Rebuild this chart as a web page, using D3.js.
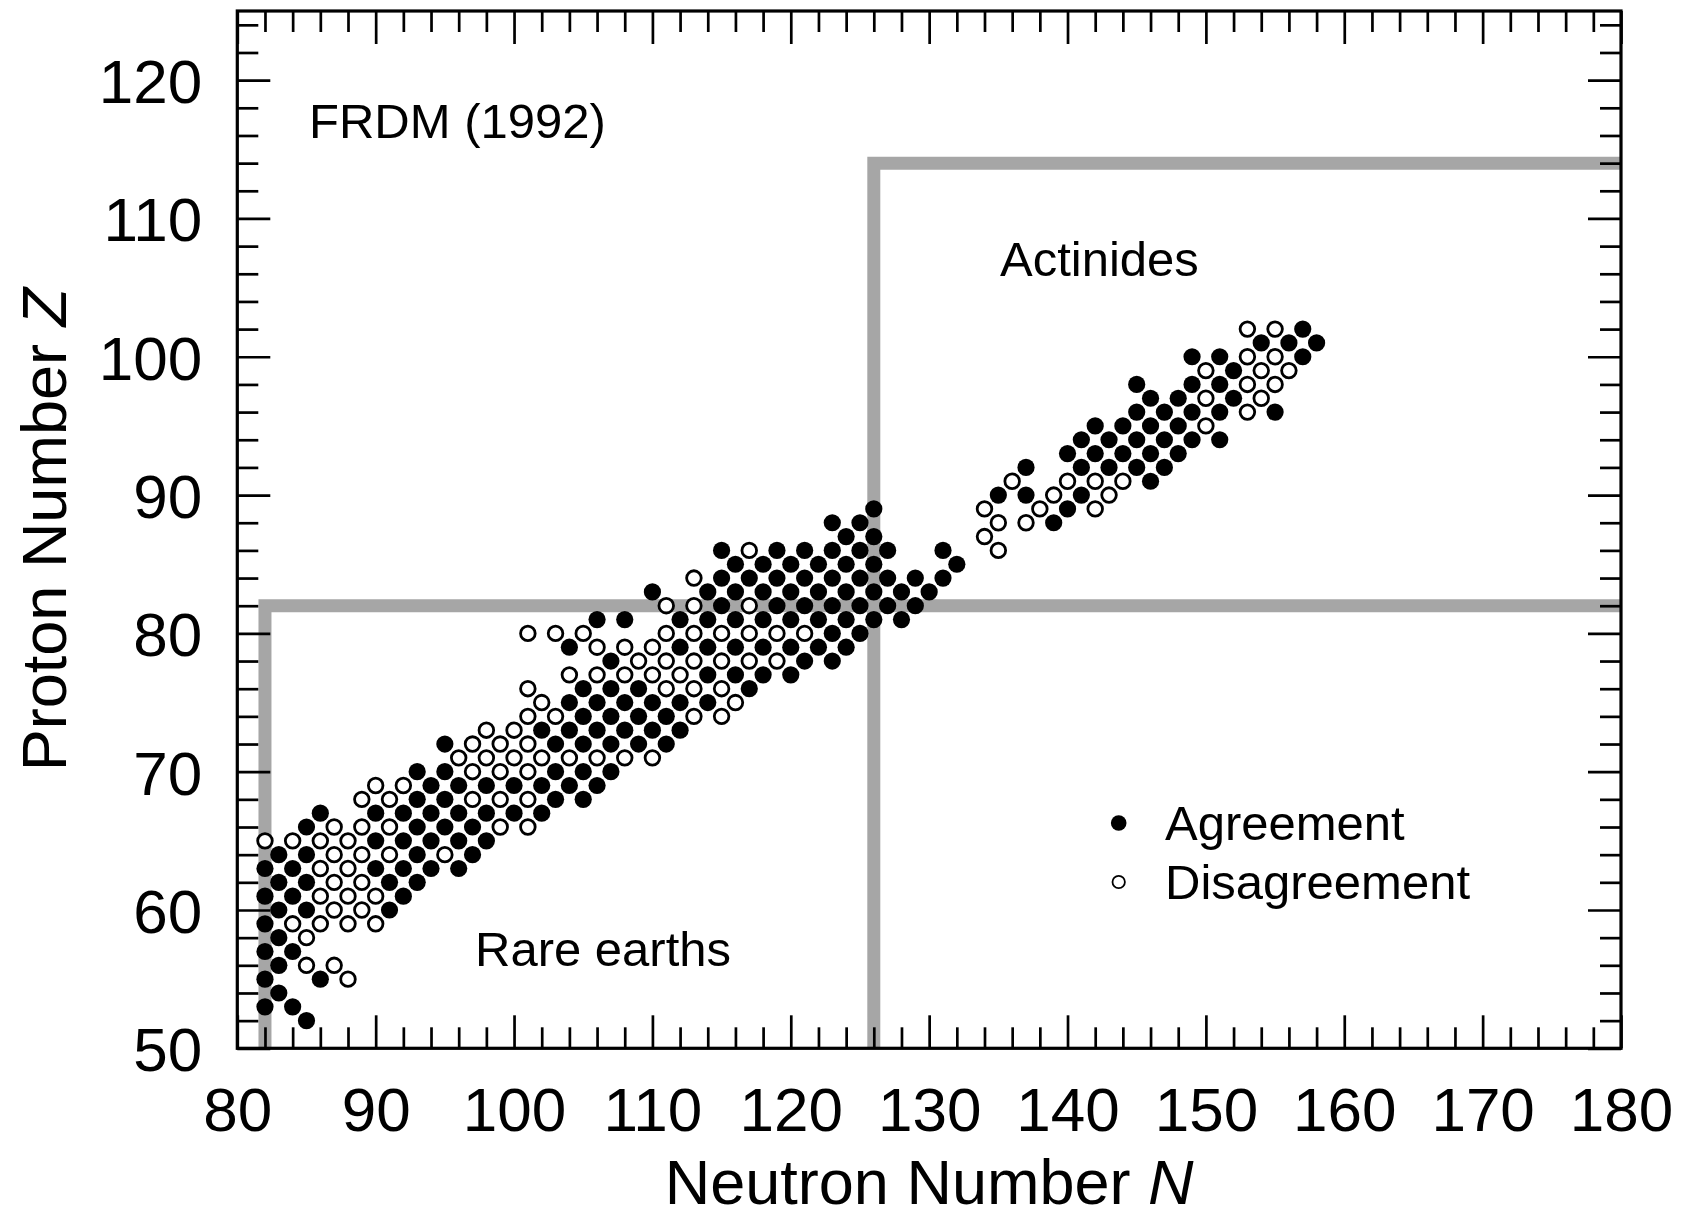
<!DOCTYPE html>
<html><head><meta charset="utf-8">
<script src="https://cdn.jsdelivr.net/npm/d3@7"></script>
<style>
body{margin:0;background:#fff}
svg{display:block}
text{font-family:"Liberation Sans",Arial,Helvetica,sans-serif;fill:#000}
</style>
</head><body>
<svg id="chart" width="1683" height="1219"></svg>
<script>
// ---- data: [N, Z] pairs ----
const agreement = [
 [82,53],[82,55],[82,57],[82,59],[82,61],[82,63],
 [83,54],[83,56],[83,58],[83,60],[83,62],[83,64],
 [84,53],[84,57],[84,61],[84,63],
 [85,52],[85,60],[85,62],[85,64],[85,66],
 [86,55],[86,67],
 [90,63],[90,65],[90,67],
 [91,60],[91,62],
 [92,61],[92,63],[92,65],[92,67],
 [93,62],[93,64],[93,66],[93,68],[93,70],
 [94,63],[94,65],[94,67],[94,69],
 [95,66],[95,68],[95,70],[95,72],
 [96,63],[96,65],[96,67],[96,69],
 [97,64],[97,66],
 [98,65],[98,67],[98,69],
 [100,67],[100,69],
 [102,67],[102,69],[102,73],
 [103,68],[103,70],[103,72],
 [104,69],[104,73],[104,75],[104,79],
 [105,68],[105,70],[105,72],[105,74],[105,76],
 [106,69],[106,73],[106,75],[106,81],
 [107,70],[107,72],[107,74],[107,76],[107,78],
 [108,73],[108,75],[108,81],
 [109,72],[109,74],[109,76],
 [110,73],[110,75],[110,83],
 [111,72],[111,74],
 [112,73],[112,75],[112,79],[112,81],
 [114,75],[114,77],[114,79],[114,81],[114,83],
 [115,82],[115,84],[115,86],
 [116,77],[116,79],[116,81],[116,83],[116,85],
 [117,76],[117,84],
 [118,77],[118,79],[118,81],[118,83],[118,85],
 [119,82],[119,84],[119,86],
 [120,77],[120,79],[120,81],[120,83],[120,85],
 [121,78],[121,82],[121,84],[121,86],
 [122,79],[122,81],[122,83],[122,85],
 [123,78],[123,80],[123,82],[123,84],[123,86],[123,88],
 [124,79],[124,81],[124,83],[124,85],[124,87],
 [125,80],[125,82],[125,84],[125,86],[125,88],
 [126,81],[126,83],[126,85],[126,87],[126,89],
 [127,82],[127,84],[127,86],
 [128,81],[128,83],
 [129,82],[129,84],
 [130,83],
 [131,84],[131,86],
 [132,85],
 [135,90],
 [137,90],[137,92],
 [139,88],
 [140,89],[140,93],
 [141,90],[141,92],[141,94],
 [142,93],[142,95],
 [143,92],[143,94],
 [144,93],[144,95],
 [145,92],[145,94],[145,96],[145,98],
 [146,91],[146,93],[146,95],[146,97],
 [147,92],[147,94],[147,96],
 [148,93],[148,95],[148,97],
 [149,94],[149,96],[149,98],[149,100],
 [151,94],[151,96],[151,98],[151,100],
 [152,97],[152,99],
 [154,101],
 [155,96],
 [156,101],
 [157,100],[157,102],
 [158,101]
];
const disagreement = [
 [82,65],
 [84,59],[84,65],
 [85,56],[85,58],
 [86,59],[86,61],[86,63],[86,65],
 [87,56],[87,60],[87,62],[87,64],[87,66],
 [88,55],[88,59],[88,61],[88,63],[88,65],
 [89,60],[89,62],[89,64],[89,66],[89,68],
 [90,59],[90,61],[90,69],
 [91,64],[91,66],[91,68],
 [92,69],
 [95,64],
 [96,71],
 [97,68],[97,70],[97,72],
 [98,71],[98,73],
 [99,66],[99,68],[99,70],[99,72],
 [100,71],[100,73],
 [101,66],[101,68],[101,70],[101,72],[101,74],[101,76],[101,80],
 [102,71],[102,75],
 [103,74],[103,80],
 [104,71],[104,77],
 [105,80],
 [106,71],[106,77],[106,79],
 [108,71],[108,77],[108,79],
 [109,78],
 [110,71],[110,77],[110,79],
 [111,76],[111,78],[111,80],[111,82],
 [112,77],
 [113,74],[113,76],[113,78],[113,80],[113,82],[113,84],
 [115,74],[115,76],[115,78],[115,80],
 [116,75],
 [117,78],[117,80],[117,82],[117,86],
 [119,78],[119,80],
 [121,80],
 [134,87],[134,89],
 [135,86],[135,88],
 [136,91],
 [137,88],
 [138,89],
 [139,90],
 [140,91],
 [142,89],[142,91],
 [143,90],
 [144,91],
 [150,95],[150,97],[150,99],
 [153,96],[153,98],[153,100],[153,102],
 [154,97],[154,99],
 [155,98],[155,100],[155,102],
 [156,99]
];
const xMajorTicks = [80,90,100,110,120,130,140,150,160,170,180];
const yMajorTicks = [50,60,70,80,90,100,110,120];
const xMinorTicks = d3.range(80,181,2);
const yMinorTicks = d3.range(50,126,2);
// region boundaries (N, Z)
const rareEarthsBoundary = [[82,50],[82,82],[180,82]];
const actinidesBoundary  = [[126,50],[126,114],[180,114]];
const legendLabels = ["Agreement","Disagreement"];

// ---- layout ----
const svg = d3.select("#chart");
const L = 237.3, R = 1621, T = 11, B = 1048.3;
const x = d3.scaleLinear().domain([80,180]).range([L,R]);
const y = d3.scaleLinear().domain([50,125]).range([B,T]);

svg.append("rect").attr("width",1683).attr("height",1219).attr("fill","#fff");

svg.append("defs").append("clipPath").attr("id","plot")
  .append("rect").attr("x",L).attr("y",T).attr("width",R-L).attr("height",B-T);

// grey region boundaries
const line = d3.line().x(d=>x(d[0])).y(d=>y(d[1]));
const gLines = svg.append("g").attr("clip-path","url(#plot)");
[rareEarthsBoundary, actinidesBoundary].forEach(b=>{
  gLines.append("path").attr("d",line(b)).attr("fill","none")
    .attr("stroke","#a6a6a6").attr("stroke-width",13)
    .attr("stroke-linejoin","miter").attr("stroke-linecap","square");
});

// axes (ticks inward on all four sides)
function styleAxis(g){
  g.select(".domain").remove();
  g.selectAll("line").attr("stroke","#000").attr("stroke-width",2.7);
}
const MAJ = 33, MIN = 21;
// bottom
svg.append("g").attr("transform",`translate(0,${B})`)
  .call(d3.axisBottom(x).tickValues(xMinorTicks.filter(v=>v%10)).tickSize(-MIN).tickFormat(""))
  .call(styleAxis);
const gb = svg.append("g").attr("transform",`translate(0,${B})`)
  .call(d3.axisBottom(x).tickValues(xMajorTicks).tickSize(-MAJ).tickPadding(39).tickFormat(d3.format("d")))
  .call(styleAxis);
gb.selectAll("text").attr("font-size",62).attr("font-family","Liberation Sans, Arial, sans-serif").attr("fill","#000");
// top
svg.append("g").attr("transform",`translate(0,${T})`)
  .call(d3.axisTop(x).tickValues(xMinorTicks.filter(v=>v%10)).tickSize(-MIN).tickFormat(""))
  .call(styleAxis);
svg.append("g").attr("transform",`translate(0,${T})`)
  .call(d3.axisTop(x).tickValues(xMajorTicks).tickSize(-MAJ).tickFormat(""))
  .call(styleAxis);
// left
svg.append("g").attr("transform",`translate(${L},0)`)
  .call(d3.axisLeft(y).tickValues(yMinorTicks.filter(v=>v%10)).tickSize(-MIN).tickFormat(""))
  .call(styleAxis);
const gl = svg.append("g").attr("transform",`translate(${L},0)`)
  .call(d3.axisLeft(y).tickValues(yMajorTicks).tickSize(-MAJ).tickPadding(35).tickFormat(d3.format("d")))
  .call(styleAxis);
gl.selectAll("text").attr("font-size",62).attr("dy","0.36em").attr("font-family","Liberation Sans, Arial, sans-serif").attr("fill","#000");
// right
svg.append("g").attr("transform",`translate(${R},0)`)
  .call(d3.axisRight(y).tickValues(yMinorTicks.filter(v=>v%10)).tickSize(-MIN).tickFormat(""))
  .call(styleAxis);
svg.append("g").attr("transform",`translate(${R},0)`)
  .call(d3.axisRight(y).tickValues(yMajorTicks).tickSize(-MAJ).tickFormat(""))
  .call(styleAxis);

// frame
svg.append("rect").attr("x",L).attr("y",T).attr("width",R-L).attr("height",B-T)
  .attr("fill","none").attr("stroke","#000").attr("stroke-width",3.2);

// points
svg.append("g").selectAll("circle").data(agreement).join("circle")
  .attr("cx",d=>x(d[0])).attr("cy",d=>y(d[1])).attr("r",8.6).attr("fill","#000");
svg.append("g").selectAll("circle").data(disagreement).join("circle")
  .attr("cx",d=>x(d[0])).attr("cy",d=>y(d[1])).attr("r",7.3)
  .attr("fill","#fff").attr("stroke","#000").attr("stroke-width",2.8);

// annotations
svg.append("text").attr("x",309).attr("y",138).attr("font-size",49).text("FRDM (1992)");
svg.append("text").attr("x",1000).attr("y",276).attr("font-size",49).text("Actinides");
svg.append("text").attr("x",475).attr("y",966).attr("font-size",49).text("Rare earths");

// legend
const lg = svg.append("g");
legendLabels.forEach((lab,i)=>{
  const cy = i===0 ? 823 : 882;
  if(i===0){
    lg.append("circle").attr("cx",1118.7).attr("cy",cy).attr("r",7.8).attr("fill","#000");
  } else {
    lg.append("circle").attr("cx",1118.7).attr("cy",cy).attr("r",6.2)
      .attr("fill","#fff").attr("stroke","#000").attr("stroke-width",1.8);
  }
  lg.append("text").attr("x",1165).attr("y",cy+17).attr("font-size",49).text(lab);
});

// axis titles
const xt = svg.append("text").attr("x",(L+R)/2).attr("y",1204).attr("text-anchor","middle").attr("font-size",63);
xt.append("tspan").text("Neutron Number ");
xt.append("tspan").attr("font-style","italic").text("N");
const yt = svg.append("text").attr("transform",`translate(66,${(T+B)/2}) rotate(-90)`)
  .attr("text-anchor","middle").attr("font-size",63);
yt.append("tspan").text("Proton Number ");
yt.append("tspan").attr("font-style","italic").text("Z");
</script>
</body></html>
